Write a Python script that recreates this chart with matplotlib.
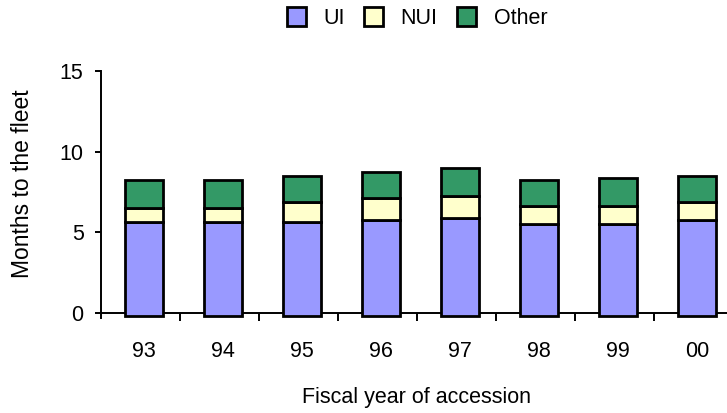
import matplotlib
matplotlib.use("Agg")
import matplotlib.pyplot as plt
import numpy as np

plt.rcParams['font.family'] = ['Liberation Sans', 'DejaVu Sans']

years = ['93', '94', '95', '96', '97', '98', '99', '00']
ui = [5.66, 5.65, 5.66, 5.77, 5.91, 5.52, 5.52, 5.77]
nui = [0.83, 0.85, 1.22, 1.36, 1.32, 1.11, 1.11, 1.09]
other = [1.75, 1.74, 1.61, 1.63, 1.78, 1.61, 1.76, 1.65]

c_ui = '#9999FF'
c_nui = '#FFFFCC'
c_other = '#339966'

base = -0.17   # bars start a hair below the axis line, as in the original
fs = 15.5

fig = plt.figure(figsize=(7.27, 4.13), dpi=100)
ax = fig.add_axes([0.1389, 0.2305, 0.8693, 0.5976])

x = np.arange(len(years))
ui = np.array(ui)
nui = np.array(nui)
other = np.array(other)
w = 0.48
kw = dict(width=w, edgecolor='black', linewidth=2.0, zorder=3)
ax.bar(x, ui - base, bottom=base, color=c_ui, label='UI', **kw)
ax.bar(x, nui, bottom=ui, color=c_nui, label='NUI', **kw)
ax.bar(x, other, bottom=ui + nui, color=c_other, label='Other', **kw)

ax.set_ylim(-0.3, 15)
ax.set_xlim(-0.545, 7.455)
ax.set_yticks([0, 5, 10, 15])
ax.tick_params(axis='y', direction='out', length=4.5, width=1.4, pad=8, labelsize=fs)

ax.set_xticks(x)
ax.set_xticklabels(years)
ax.set_xticks(np.arange(len(years)) + 0.455, minor=True)
ax.tick_params(axis='x', which='major', length=0, pad=20, labelsize=fs)
ax.tick_params(axis='x', which='minor', direction='out', length=6, width=1.4)

for s in ['top', 'right']:
    ax.spines[s].set_visible(False)
ax.spines['bottom'].set_position(('data', 0))
ax.spines['bottom'].set_linewidth(1.4)
ax.spines['left'].set_linewidth(1.4)

ax.set_ylabel('Months to the fleet', fontsize=16.5)
ax.yaxis.set_label_coords(-0.106, 0.545)
ax.set_xlabel('Fiscal year of accession', fontsize=fs)
ax.xaxis.set_label_coords(0.5, -0.28)

ax.legend(loc='center', bbox_to_anchor=(0.5, 1.0 + (0.956 - 0.828) / 0.5976),
          ncol=3, frameon=False, fontsize=fs, handlelength=0.9, handleheight=0.95,
          handletextpad=0.8, columnspacing=0.9, borderaxespad=0)

plt.savefig('out.png', dpi=100)
